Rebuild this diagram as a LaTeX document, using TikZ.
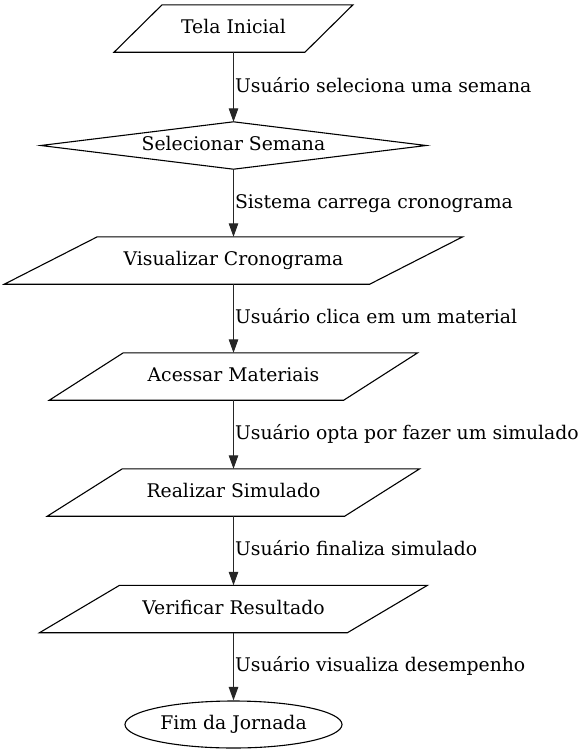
\documentclass[tikz,border=0pt]{standalone}
\usepackage{fontspec}
\setmainfont{DejaVu Serif}
\usetikzlibrary{arrows.meta,shapes.geometric}
\tikzset{
  txt/.style={inner sep=0pt, font=\fontsize{18.8}{22}\selectfont, text height=13.5pt, text depth=3.5pt},
  holder/.style={txt, minimum width=#1, minimum height=47pt},
  shapeline/.style={draw=black, line width=1.1pt, line join=miter},
  arr/.style={draw=black!85, line width=1.1pt, -{Triangle[length=13.5pt,width=9.5pt]}},
  elabel/.style={txt, anchor=west, xshift=1pt},
  endell/.style={ellipse, draw=black, line width=1.1pt, minimum width=217pt, minimum height=47pt, inner sep=0pt, font=\fontsize{18.8}{22}\selectfont}
}
\newcommand{\parallelo}[2]{%
  \draw[shapeline] ([xshift=#2/2]#1.north west) -- ([xshift=#2/2]#1.north east)
    -- ([xshift=-#2/2]#1.south east) -- ([xshift=-#2/2]#1.south west) -- cycle;}
\begin{document}
\begin{tikzpicture}[x=1pt,y=-1pt]
\useasboundingbox (0,0) rectangle (583,755);
\node[holder=190.5pt] (n1) at (233.5,28.5) {Tela Inicial};
\parallelo{n1}{48pt}
\node[holder=385pt] (n2) at (233.5,145.5) {Selecionar Semana};
\draw[shapeline] (n2.west) -- (n2.north) -- (n2.east) -- (n2.south) -- cycle;
\node[holder=365pt] (n3) at (233.5,260.5) {Visualizar Cronograma};
\parallelo{n3}{93pt}
\node[holder=294pt] (n4) at (233.5,376.5) {Acessar Materiais};
\parallelo{n4}{74pt}
\node[holder=297pt] (n5) at (233.5,492.5) {Realizar Simulado};
\parallelo{n5}{75pt}
\node[holder=307.5pt] (n6) at (233.5,609) {Verificar Resultado};
\parallelo{n6}{80pt}
\node[endell] (n7) at (233.5,724.5) {Fim da Jornada};
\draw[arr] (n1.south) -- (n2.north) node[midway,elabel] {Usuário seleciona uma semana};
\draw[arr] (n2.south) -- (n3.north) node[midway,elabel] {Sistema carrega cronograma};
\draw[arr] (n3.south) -- (n4.north) node[midway,elabel] {Usuário clica em um material};
\draw[arr] (n4.south) -- (n5.north) node[midway,elabel] {Usuário opta por fazer um simulado};
\draw[arr] (n5.south) -- (n6.north) node[midway,elabel] {Usuário finaliza simulado};
\draw[arr] (n6.south) -- (n7.north) node[midway,elabel] {Usuário visualiza desempenho};
\end{tikzpicture}
\end{document}
